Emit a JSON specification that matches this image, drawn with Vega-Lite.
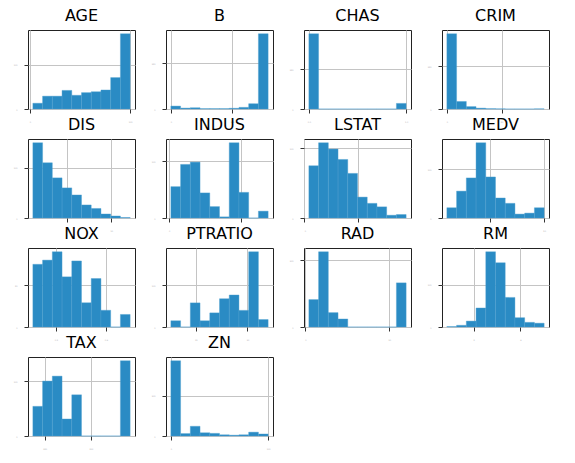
{
  "$schema": "https://vega.github.io/schema/vega-lite/v6.json",
  "background": "white",
  "padding": {"left": 12, "top": 7, "right": 5, "bottom": 5},
  "data": {"values": [
    {"var":"AGE","x0":2.9,"x1":12.61,"count":13},{"var":"AGE","x0":12.61,"x1":22.32,"count":29},{"var":"AGE","x0":22.32,"x1":32.03,"count":29},{"var":"AGE","x0":32.03,"x1":41.74,"count":42},{"var":"AGE","x0":41.74,"x1":51.45,"count":31},{"var":"AGE","x0":51.45,"x1":61.16,"count":37},{"var":"AGE","x0":61.16,"x1":70.87,"count":39},{"var":"AGE","x0":70.87,"x1":80.58,"count":43},{"var":"AGE","x0":80.58,"x1":90.29,"count":71},{"var":"AGE","x0":90.29,"x1":100,"count":170},
    {"var":"B","x0":0.32,"x1":39.98,"count":16},{"var":"B","x0":39.98,"x1":79.64,"count":5},{"var":"B","x0":79.64,"x1":119.29,"count":7},{"var":"B","x0":119.29,"x1":158.95,"count":2},{"var":"B","x0":158.95,"x1":198.61,"count":2},{"var":"B","x0":198.61,"x1":238.27,"count":2},{"var":"B","x0":238.27,"x1":277.93,"count":4},{"var":"B","x0":277.93,"x1":317.58,"count":9},{"var":"B","x0":317.58,"x1":357.24,"count":29},{"var":"B","x0":357.24,"x1":396.9,"count":412},
    {"var":"CHAS","x0":0,"x1":0.1,"count":471},{"var":"CHAS","x0":0.1,"x1":0.2,"count":0},{"var":"CHAS","x0":0.2,"x1":0.3,"count":0},{"var":"CHAS","x0":0.3,"x1":0.4,"count":0},{"var":"CHAS","x0":0.4,"x1":0.5,"count":0},{"var":"CHAS","x0":0.5,"x1":0.6,"count":0},{"var":"CHAS","x0":0.6,"x1":0.7,"count":0},{"var":"CHAS","x0":0.7,"x1":0.8,"count":0},{"var":"CHAS","x0":0.8,"x1":0.9,"count":0},{"var":"CHAS","x0":0.9,"x1":1.0,"count":35},
    {"var":"CRIM","x0":0.006,"x1":8.903,"count":439},{"var":"CRIM","x0":8.903,"x1":17.8,"count":44},{"var":"CRIM","x0":17.8,"x1":26.697,"count":14},{"var":"CRIM","x0":26.697,"x1":35.594,"count":5},{"var":"CRIM","x0":35.594,"x1":44.491,"count":2},{"var":"CRIM","x0":44.491,"x1":53.388,"count":1},{"var":"CRIM","x0":53.388,"x1":62.285,"count":0},{"var":"CRIM","x0":62.285,"x1":71.182,"count":0},{"var":"CRIM","x0":71.182,"x1":80.079,"count":0},{"var":"CRIM","x0":80.079,"x1":88.976,"count":1},
    {"var":"DIS","x0":1.13,"x1":2.229,"count":150},{"var":"DIS","x0":2.229,"x1":3.329,"count":110},{"var":"DIS","x0":3.329,"x1":4.429,"count":80},{"var":"DIS","x0":4.429,"x1":5.528,"count":60},{"var":"DIS","x0":5.528,"x1":6.628,"count":46},{"var":"DIS","x0":6.628,"x1":7.728,"count":26},{"var":"DIS","x0":7.728,"x1":8.828,"count":19},{"var":"DIS","x0":8.828,"x1":9.927,"count":8},{"var":"DIS","x0":9.927,"x1":11.027,"count":4},{"var":"DIS","x0":11.027,"x1":12.127,"count":1},
    {"var":"INDUS","x0":0.46,"x1":3.188,"count":55},{"var":"INDUS","x0":3.188,"x1":5.916,"count":94},{"var":"INDUS","x0":5.916,"x1":8.644,"count":98},{"var":"INDUS","x0":8.644,"x1":11.372,"count":44},{"var":"INDUS","x0":11.372,"x1":14.1,"count":20},{"var":"INDUS","x0":14.1,"x1":16.828,"count":2},{"var":"INDUS","x0":16.828,"x1":19.556,"count":132},{"var":"INDUS","x0":19.556,"x1":22.284,"count":45},{"var":"INDUS","x0":22.284,"x1":25.012,"count":0},{"var":"INDUS","x0":25.012,"x1":27.74,"count":12},
    {"var":"LSTAT","x0":1.73,"x1":5.354,"count":75},{"var":"LSTAT","x0":5.354,"x1":8.978,"count":108},{"var":"LSTAT","x0":8.978,"x1":12.602,"count":99},{"var":"LSTAT","x0":12.602,"x1":16.226,"count":84},{"var":"LSTAT","x0":16.226,"x1":19.85,"count":64},{"var":"LSTAT","x0":19.85,"x1":23.474,"count":30},{"var":"LSTAT","x0":23.474,"x1":27.098,"count":21},{"var":"LSTAT","x0":27.098,"x1":30.722,"count":16},{"var":"LSTAT","x0":30.722,"x1":34.346,"count":4},{"var":"LSTAT","x0":34.346,"x1":37.97,"count":5},
    {"var":"MEDV","x0":5,"x1":9.5,"count":21},{"var":"MEDV","x0":9.5,"x1":14,"count":55},{"var":"MEDV","x0":14,"x1":18.5,"count":82},{"var":"MEDV","x0":18.5,"x1":23,"count":154},{"var":"MEDV","x0":23,"x1":27.5,"count":84},{"var":"MEDV","x0":27.5,"x1":32,"count":41},{"var":"MEDV","x0":32,"x1":36.5,"count":30},{"var":"MEDV","x0":36.5,"x1":41,"count":8},{"var":"MEDV","x0":41,"x1":45.5,"count":10},{"var":"MEDV","x0":45.5,"x1":50,"count":21},
    {"var":"NOX","x0":0.385,"x1":0.4336,"count":75},{"var":"NOX","x0":0.4336,"x1":0.4822,"count":80},{"var":"NOX","x0":0.4822,"x1":0.5308,"count":90},{"var":"NOX","x0":0.5308,"x1":0.5794,"count":60},{"var":"NOX","x0":0.5794,"x1":0.628,"count":79},{"var":"NOX","x0":0.628,"x1":0.6766,"count":29},{"var":"NOX","x0":0.6766,"x1":0.7252,"count":58},{"var":"NOX","x0":0.7252,"x1":0.7738,"count":20},{"var":"NOX","x0":0.7738,"x1":0.8224,"count":0},{"var":"NOX","x0":0.8224,"x1":0.871,"count":15},
    {"var":"PTRATIO","x0":12.6,"x1":13.54,"count":15},{"var":"PTRATIO","x0":13.54,"x1":14.48,"count":0},{"var":"PTRATIO","x0":14.48,"x1":15.42,"count":58},{"var":"PTRATIO","x0":15.42,"x1":16.36,"count":15},{"var":"PTRATIO","x0":16.36,"x1":17.3,"count":34},{"var":"PTRATIO","x0":17.3,"x1":18.24,"count":68},{"var":"PTRATIO","x0":18.24,"x1":19.18,"count":77},{"var":"PTRATIO","x0":19.18,"x1":20.12,"count":40},{"var":"PTRATIO","x0":20.12,"x1":21.06,"count":181},{"var":"PTRATIO","x0":21.06,"x1":22,"count":18},
    {"var":"RAD","x0":1,"x1":3.3,"count":82},{"var":"RAD","x0":3.3,"x1":5.6,"count":225},{"var":"RAD","x0":5.6,"x1":7.9,"count":43},{"var":"RAD","x0":7.9,"x1":10.2,"count":24},{"var":"RAD","x0":10.2,"x1":12.5,"count":0},{"var":"RAD","x0":12.5,"x1":14.8,"count":0},{"var":"RAD","x0":14.8,"x1":17.1,"count":0},{"var":"RAD","x0":17.1,"x1":19.4,"count":0},{"var":"RAD","x0":19.4,"x1":21.7,"count":0},{"var":"RAD","x0":21.7,"x1":24,"count":132},
    {"var":"RM","x0":3.561,"x1":4.083,"count":1},{"var":"RM","x0":4.083,"x1":4.605,"count":4},{"var":"RM","x0":4.605,"x1":5.127,"count":14},{"var":"RM","x0":5.127,"x1":5.649,"count":45},{"var":"RM","x0":5.649,"x1":6.171,"count":178},{"var":"RM","x0":6.171,"x1":6.692,"count":152},{"var":"RM","x0":6.692,"x1":7.214,"count":70},{"var":"RM","x0":7.214,"x1":7.736,"count":22},{"var":"RM","x0":7.736,"x1":8.258,"count":11},{"var":"RM","x0":8.258,"x1":8.78,"count":9},
    {"var":"TAX","x0":187,"x1":239.4,"count":54},{"var":"TAX","x0":239.4,"x1":291.8,"count":100},{"var":"TAX","x0":291.8,"x1":344.2,"count":109},{"var":"TAX","x0":344.2,"x1":396.6,"count":31},{"var":"TAX","x0":396.6,"x1":449,"count":75},{"var":"TAX","x0":449,"x1":501.4,"count":0},{"var":"TAX","x0":501.4,"x1":553.8,"count":0},{"var":"TAX","x0":553.8,"x1":606.2,"count":0},{"var":"TAX","x0":606.2,"x1":658.6,"count":0},{"var":"TAX","x0":658.6,"x1":711,"count":137},
    {"var":"ZN","x0":0,"x1":10,"count":372},{"var":"ZN","x0":10,"x1":20,"count":12},{"var":"ZN","x0":20,"x1":30,"count":48},{"var":"ZN","x0":30,"x1":40,"count":16},{"var":"ZN","x0":40,"x1":50,"count":13},{"var":"ZN","x0":50,"x1":60,"count":6},{"var":"ZN","x0":60,"x1":70,"count":4},{"var":"ZN","x0":70,"x1":80,"count":6},{"var":"ZN","x0":80,"x1":90,"count":19},{"var":"ZN","x0":90,"x1":100,"count":10}
  ]},
  "columns": 4,
  "spacing": {"row": 30, "column": 31},
  "bounds": "flush",
  "concat": [
    {"title": "AGE", "width": 107, "height": 79, "transform": [{"filter": "datum.var === 'AGE'"}], "mark": {"type": "bar", "color": "#2a8bc4", "stroke": "#4c9fd0", "strokeWidth": 0.4},
     "encoding": {"x": {"field": "x0", "type": "quantitative", "scale": {"domain": [-1.955, 104.855], "nice": false, "zero": false}, "axis": {"values": [0, 100]}}, "x2": {"field": "x1"},
                  "y": {"field": "count", "type": "quantitative", "scale": {"domain": [0, 178.5], "nice": false}, "axis": {"values": [0, 100]}}, "y2": {"datum": 0}}},
    {"title": "B", "width": 107, "height": 79, "transform": [{"filter": "datum.var === 'B'"}], "mark": {"type": "bar", "color": "#2a8bc4", "stroke": "#4c9fd0", "strokeWidth": 0.4},
     "encoding": {"x": {"field": "x0", "type": "quantitative", "scale": {"domain": [-19.51, 416.73], "nice": false, "zero": false}, "axis": {"values": [0, 250]}}, "x2": {"field": "x1"},
                  "y": {"field": "count", "type": "quantitative", "scale": {"domain": [0, 432.6], "nice": false}, "axis": {"values": [0, 250]}}, "y2": {"datum": 0}}},
    {"title": "CHAS", "width": 107, "height": 79, "transform": [{"filter": "datum.var === 'CHAS'"}], "mark": {"type": "bar", "color": "#2a8bc4", "stroke": "#4c9fd0", "strokeWidth": 0.4},
     "encoding": {"x": {"field": "x0", "type": "quantitative", "scale": {"domain": [-0.05, 1.05], "nice": false, "zero": false}, "axis": {"values": [0, 1]}}, "x2": {"field": "x1"},
                  "y": {"field": "count", "type": "quantitative", "scale": {"domain": [0, 494.55], "nice": false}, "axis": {"values": [0, 250]}}, "y2": {"datum": 0}}},
    {"title": "CRIM", "width": 107, "height": 79, "transform": [{"filter": "datum.var === 'CRIM'"}], "mark": {"type": "bar", "color": "#2a8bc4", "stroke": "#4c9fd0", "strokeWidth": 0.4},
     "encoding": {"x": {"field": "x0", "type": "quantitative", "scale": {"domain": [-4.442, 93.425], "nice": false, "zero": false}, "axis": {"values": [0, 50]}}, "x2": {"field": "x1"},
                  "y": {"field": "count", "type": "quantitative", "scale": {"domain": [0, 460.95], "nice": false}, "axis": {"values": [0, 250]}}, "y2": {"datum": 0}}},
    {"title": "DIS", "width": 107, "height": 79, "transform": [{"filter": "datum.var === 'DIS'"}], "mark": {"type": "bar", "color": "#2a8bc4", "stroke": "#4c9fd0", "strokeWidth": 0.4},
     "encoding": {"x": {"field": "x0", "type": "quantitative", "scale": {"domain": [0.58, 12.676], "nice": false, "zero": false}, "axis": {"values": [5, 10]}}, "x2": {"field": "x1"},
                  "y": {"field": "count", "type": "quantitative", "scale": {"domain": [0, 157.5], "nice": false}, "axis": {"values": [0, 100]}}, "y2": {"datum": 0}}},
    {"title": "INDUS", "width": 107, "height": 79, "transform": [{"filter": "datum.var === 'INDUS'"}], "mark": {"type": "bar", "color": "#2a8bc4", "stroke": "#4c9fd0", "strokeWidth": 0.4},
     "encoding": {"x": {"field": "x0", "type": "quantitative", "scale": {"domain": [-0.904, 29.104], "nice": false, "zero": false}, "axis": {"values": [0, 20]}}, "x2": {"field": "x1"},
                  "y": {"field": "count", "type": "quantitative", "scale": {"domain": [0, 138.6], "nice": false}, "axis": {"values": [0, 100]}}, "y2": {"datum": 0}}},
    {"title": "LSTAT", "width": 107, "height": 79, "transform": [{"filter": "datum.var === 'LSTAT'"}], "mark": {"type": "bar", "color": "#2a8bc4", "stroke": "#4c9fd0", "strokeWidth": 0.4},
     "encoding": {"x": {"field": "x0", "type": "quantitative", "scale": {"domain": [-0.082, 39.782], "nice": false, "zero": false}, "axis": {"values": [0, 20]}}, "x2": {"field": "x1"},
                  "y": {"field": "count", "type": "quantitative", "scale": {"domain": [0, 113.4], "nice": false}, "axis": {"values": [0, 100]}}, "y2": {"datum": 0}}},
    {"title": "MEDV", "width": 107, "height": 79, "transform": [{"filter": "datum.var === 'MEDV'"}], "mark": {"type": "bar", "color": "#2a8bc4", "stroke": "#4c9fd0", "strokeWidth": 0.4},
     "encoding": {"x": {"field": "x0", "type": "quantitative", "scale": {"domain": [2.75, 52.25], "nice": false, "zero": false}, "axis": {"values": [25, 50]}}, "x2": {"field": "x1"},
                  "y": {"field": "count", "type": "quantitative", "scale": {"domain": [0, 161.7], "nice": false}, "axis": {"values": [0, 100]}}, "y2": {"datum": 0}}},
    {"title": "NOX", "width": 107, "height": 79, "transform": [{"filter": "datum.var === 'NOX'"}], "mark": {"type": "bar", "color": "#2a8bc4", "stroke": "#4c9fd0", "strokeWidth": 0.4},
     "encoding": {"x": {"field": "x0", "type": "quantitative", "scale": {"domain": [0.3607, 0.8953], "nice": false, "zero": false}, "axis": {"values": [0.5, 0.75]}}, "x2": {"field": "x1"},
                  "y": {"field": "count", "type": "quantitative", "scale": {"domain": [0, 94.5], "nice": false}, "axis": {"values": [0, 50]}}, "y2": {"datum": 0}}},
    {"title": "PTRATIO", "width": 107, "height": 79, "transform": [{"filter": "datum.var === 'PTRATIO'"}], "mark": {"type": "bar", "color": "#2a8bc4", "stroke": "#4c9fd0", "strokeWidth": 0.4},
     "encoding": {"x": {"field": "x0", "type": "quantitative", "scale": {"domain": [12.13, 22.47], "nice": false, "zero": false}, "axis": {"values": [15, 20]}}, "x2": {"field": "x1"},
                  "y": {"field": "count", "type": "quantitative", "scale": {"domain": [0, 190.05], "nice": false}, "axis": {"values": [0, 100]}}, "y2": {"datum": 0}}},
    {"title": "RAD", "width": 107, "height": 79, "transform": [{"filter": "datum.var === 'RAD'"}], "mark": {"type": "bar", "color": "#2a8bc4", "stroke": "#4c9fd0", "strokeWidth": 0.4},
     "encoding": {"x": {"field": "x0", "type": "quantitative", "scale": {"domain": [-0.15, 25.15], "nice": false, "zero": false}, "axis": {"values": [0, 20]}}, "x2": {"field": "x1"},
                  "y": {"field": "count", "type": "quantitative", "scale": {"domain": [0, 236.25], "nice": false}, "axis": {"values": [0, 200]}}, "y2": {"datum": 0}}},
    {"title": "RM", "width": 107, "height": 79, "transform": [{"filter": "datum.var === 'RM'"}], "mark": {"type": "bar", "color": "#2a8bc4", "stroke": "#4c9fd0", "strokeWidth": 0.4},
     "encoding": {"x": {"field": "x0", "type": "quantitative", "scale": {"domain": [3.3, 9.041], "nice": false, "zero": false}, "axis": {"values": [5, 7.5]}}, "x2": {"field": "x1"},
                  "y": {"field": "count", "type": "quantitative", "scale": {"domain": [0, 186.9], "nice": false}, "axis": {"values": [0, 100]}}, "y2": {"datum": 0}}},
    {"title": "TAX", "width": 107, "height": 79, "transform": [{"filter": "datum.var === 'TAX'"}], "mark": {"type": "bar", "color": "#2a8bc4", "stroke": "#4c9fd0", "strokeWidth": 0.4},
     "encoding": {"x": {"field": "x0", "type": "quantitative", "scale": {"domain": [160.8, 737.2], "nice": false, "zero": false}, "axis": {"values": [250, 500]}}, "x2": {"field": "x1"},
                  "y": {"field": "count", "type": "quantitative", "scale": {"domain": [0, 143.85], "nice": false}, "axis": {"values": [0, 100]}}, "y2": {"datum": 0}}},
    {"title": "ZN", "width": 107, "height": 79, "transform": [{"filter": "datum.var === 'ZN'"}], "mark": {"type": "bar", "color": "#2a8bc4", "stroke": "#4c9fd0", "strokeWidth": 0.4},
     "encoding": {"x": {"field": "x0", "type": "quantitative", "scale": {"domain": [-5, 105], "nice": false, "zero": false}, "axis": {"values": [0, 100]}}, "x2": {"field": "x1"},
                  "y": {"field": "count", "type": "quantitative", "scale": {"domain": [0, 390.6], "nice": false}, "axis": {"values": [0, 200]}}, "y2": {"datum": 0}}}
  ],
  "config": {
    "view": {"stroke": "#222222", "strokeWidth": 1},
    "axis": {"title": null, "grid": true, "gridColor": "#c4c4c4", "gridWidth": 1, "domain": false, "ticks": true, "tickColor": "#333333", "tickSize": 4, "tickWidth": 1, "labelFontSize": 2, "labelColor": "#aaaaaa", "labelPadding": 7, "zindex": 1, "labelFont": "DejaVu Sans"},
    "title": {"font": "DejaVu Sans", "fontSize": 16, "fontWeight": "normal", "color": "#000000", "offset": 6},
    "bar": {"binSpacing": 0}
  }
}
